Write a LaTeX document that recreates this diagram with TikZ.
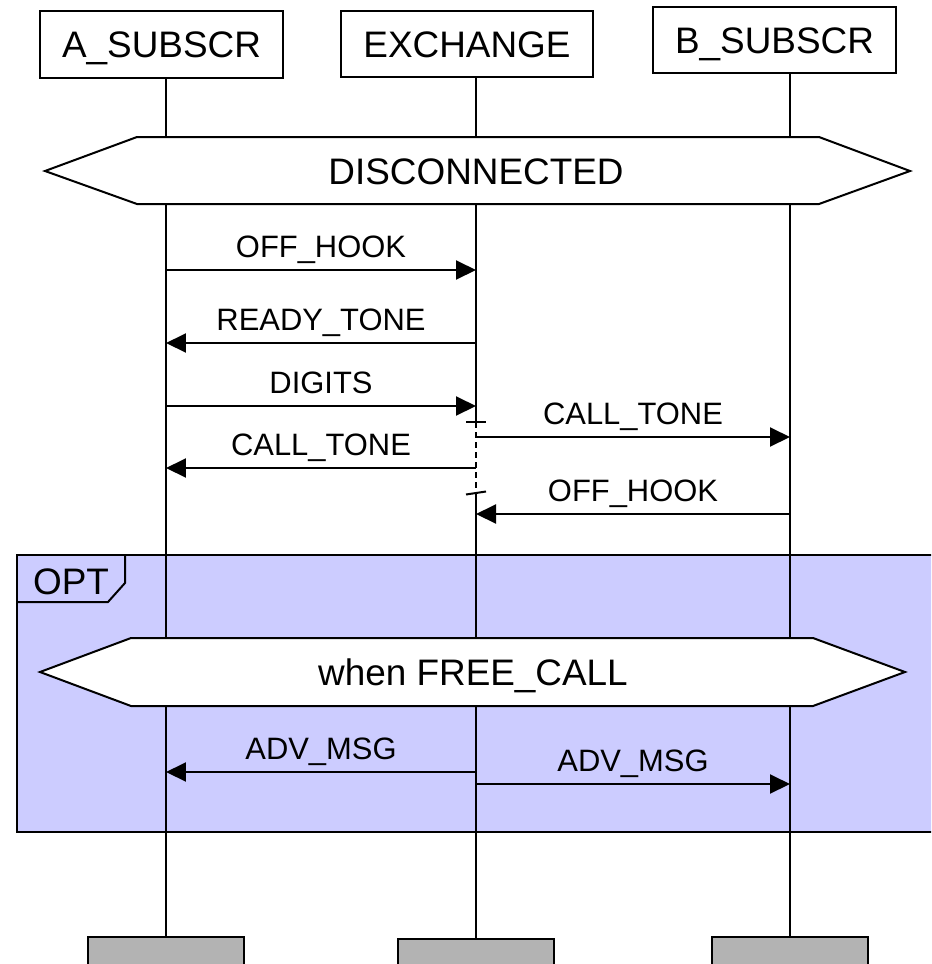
\documentclass[tikz,border=0pt]{standalone}
\usepackage{fontspec}
\setmainfont{Liberation Sans}
\usetikzlibrary{arrows.meta}
\definecolor{optfill}{RGB}{204,204,255}
\definecolor{endgray}{RGB}{179,179,179}
\tikzset{
	inst/.style={draw, line width=0.04cm, inner sep=0pt, text height=15pt, text depth=0pt, font=\fontsize{21}{25}\selectfont},
	endbox/.style={draw, line width=0.04cm, fill=endgray, minimum width=3.12cm, minimum height=0.8cm},
	life/.style={line width=0.04cm},
	msg/.style={line width=0.04cm, -{Triangle[length=0.4cm,width=0.38cm]}},
	lbl/.style={above, inner sep=3.3pt, text height=12.6pt, text depth=3.5pt, font=\fontsize{17.6}{21}\selectfont},
	cond/.style={draw, line width=0.04cm, fill=white},
	condtext/.style={inner sep=0pt, text height=15pt, text depth=0pt, font=\fontsize{21}{25}\selectfont},
}
\begin{document}
\begin{tikzpicture}[x=0.02cm, y=-0.02cm]
		\useasboundingbox (0,0) rectangle (931,964);
		\clip (0,0) rectangle (931,964);

		% рамка OPT
		\draw[life, fill=optfill] (17,555) rectangle (945,832);
		\draw[life] (17,602) -- (108,602) -- (125,583) -- (125,555);
		\node[condtext] (opt) at (71,581) {OPT};

		% экземпляры
		\node[inst, minimum width=4.86cm, minimum height=1.34cm] (A) at (161.5,44.5) {A\_SUBSCR};
		\node[inst, minimum width=5.04cm, minimum height=1.32cm] (E) at (467,44) {EXCHANGE};
		\node[inst, minimum width=4.86cm, minimum height=1.32cm] (B) at (774.5,40) {B\_SUBSCR};

		\node[endbox] (aEnd) at (166,957) {};
		\node[endbox] (eEnd) at (476,959) {};
		\node[endbox] (bEnd) at (790,957) {};

		% линии жизни
		\coordinate (cTop) at (476,422);
		\coordinate (cBot) at (476,493);
		\draw[life] (A.south -| aEnd) -- (aEnd.north);
		\draw[life] (B.south -| bEnd) -- (bEnd.north);
		\draw[life] (E.south -| eEnd) -- (cTop);
		\draw[life, dash pattern=on 3.4pt off 2.3pt] (cTop) -- (cBot);
		\draw[life] (cBot) -- (eEnd.north);
		\draw[life] ([xshift=-0.2cm]cTop) -- ([xshift=0.2cm]cTop);
		\draw[life] ([shift={(-0.2cm,-0.03cm)}]cBot) -- ([shift={(0.2cm,0.03cm)}]cBot);

		% условия
		\draw[cond] (45,171) -- (137,137) -- (819,137) -- (910,171) -- (819,204) -- (137,204) -- cycle;
		\node[condtext] (disc) at (476,171) {DISCONNECTED};
		\draw[cond] (40,672) -- (131,638) -- (813,638) -- (905,672) -- (813,706) -- (131,706) -- cycle;
		\node[condtext] (free) at (473,672) {when FREE\_CALL};

		% сообщения
		\path (166,270) coordinate (a1) (476,270) coordinate (e1);
		\path (166,343) coordinate (a2) (476,343) coordinate (e2);
		\path (166,406) coordinate (a3) (476,406) coordinate (e3);
		\path (476,437) coordinate (e4) (790,437) coordinate (b4);
		\path (166,468) coordinate (a5) (476,468) coordinate (e5);
		\path (476,514) coordinate (e6) (790,514) coordinate (b6);
		\path (166,772) coordinate (a7) (476,772) coordinate (e7);
		\path (476,784) coordinate (e8) (790,784) coordinate (b8);

		\draw[msg] (a1) -- node[lbl]{OFF\_HOOK} (e1);
		\draw[msg] (e2) -- node[lbl]{READY\_TONE} (a2);
		\draw[msg] (a3) -- node[lbl]{DIGITS} (e3);
		\draw[msg] (e4) -- node[lbl]{CALL\_TONE} (b4);
		\draw[msg] (e5) -- node[lbl]{CALL\_TONE} (a5);
		\draw[msg] (b6) -- node[lbl]{OFF\_HOOK} (e6);
		\draw[msg] (e7) -- node[lbl]{ADV\_MSG} (a7);
		\draw[msg] (e8) -- node[lbl]{ADV\_MSG} (b8);
	\end{tikzpicture}
\end{document}
